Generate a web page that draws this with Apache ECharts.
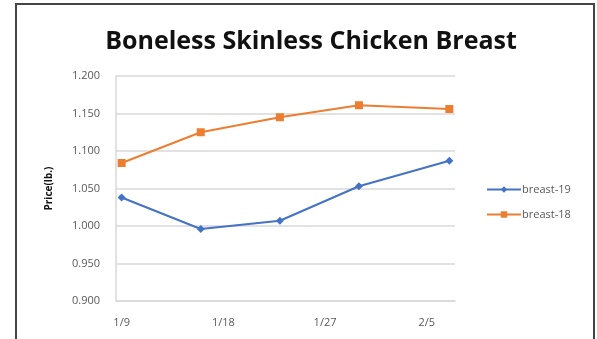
<!DOCTYPE html>
<html>
<head>
<meta charset="utf-8">
<script src="https://cdn.jsdelivr.net/npm/echarts@6/dist/echarts.min.js"></script>
<style>
  html, body { margin: 0; padding: 0; background: #fff; }
  #main { width: 597px; height: 339px; }
</style>
</head>
<body>
<div id="main"></div>
<script>
// sample dates and prices
var dates = ['1/9', '1/16', '1/23', '1/30', '2/7'];
var breast19 = [1.038, 0.996, 1.007, 1.053, 1.087];
var breast18 = [1.084, 1.125, 1.145, 1.161, 1.156];
var yTicks = [0.900, 0.950, 1.000, 1.050, 1.100, 1.150, 1.200];

// date axis: one slot per day from 1/9 to 2/7
var days = [];
for (var d = new Date(2019, 0, 9); d <= new Date(2019, 1, 7); d.setDate(d.getDate() + 1)) {
    days.push((d.getMonth() + 1) + '/' + d.getDate());
}

function pairs(vals) {
    return dates.map(function (t, i) { return [t, vals[i]]; });
}

var myChart = echarts.init(document.getElementById('main'));
var option = {
    animation: false,
    title: {
        text: 'Boneless Skinless Chicken Breast',
        left: 306,
        textAlign: 'center',
        top: 24,
        textStyle: { fontFamily: 'Open Sans', fontWeight: 'bold', fontSize: 25, color: '#111' }
    },
    graphic: [{
        type: 'rect',
        shape: { x: 16, y: 4, width: 578, height: 400 },
        style: { fill: 'none', stroke: '#444', lineWidth: 2 },
        silent: true
    }],
    legend: {
        orient: 'vertical',
        left: 481,
        top: 179,
        itemWidth: 34,
        itemHeight: 8,
        itemGap: 14,
        textStyle: { fontFamily: 'Open Sans', fontSize: 11, color: '#595959', padding: [0, 0, 0, -4] },
        data: ['breast-19', 'breast-18']
    },
    grid: { left: 116, right: 142, top: 76, bottom: 38 },
    xAxis: {
        type: 'category',
        data: days,
        boundaryGap: true,
        axisLine: { lineStyle: { color: '#d9d9d9', width: 1.5 } },
        axisTick: { show: false },
        axisLabel: { interval: 8, margin: 16, fontFamily: 'Open Sans', fontSize: 11, color: '#595959' }
    },
    yAxis: {
        type: 'value',
        min: yTicks[0],
        max: yTicks[yTicks.length - 1],
        interval: 0.05,
        name: 'Price(lb.)',
        nameLocation: 'middle',
        nameGap: 62,
        nameTextStyle: { fontFamily: 'Open Sans', fontWeight: 'bold', fontSize: 10, color: '#111' },
        axisLine: { show: true, lineStyle: { color: '#d9d9d9', width: 1.5 } },
        axisTick: { show: false },
        splitLine: { lineStyle: { color: '#d9d9d9', width: 1.5 } },
        axisLabel: {
            margin: 16,
            fontFamily: 'Open Sans', fontSize: 11, color: '#595959',
            formatter: function (v) { return v.toFixed(3); }
        }
    },
    series: [{
        name: 'breast-19',
        type: 'line',
        data: pairs(breast19),
        showSymbol: true,
        showAllSymbol: true,
        symbol: 'diamond',
        symbolSize: 8,
        lineStyle: { color: '#4472C4', width: 2 },
        itemStyle: { color: '#4472C4' }
    }, {
        name: 'breast-18',
        type: 'line',
        data: pairs(breast18),
        showSymbol: true,
        showAllSymbol: true,
        symbol: 'rect',
        symbolSize: 8,
        lineStyle: { color: '#ED7D31', width: 2 },
        itemStyle: { color: '#ED7D31' }
    }]
};
myChart.setOption(option);
</script>
</body>
</html>
